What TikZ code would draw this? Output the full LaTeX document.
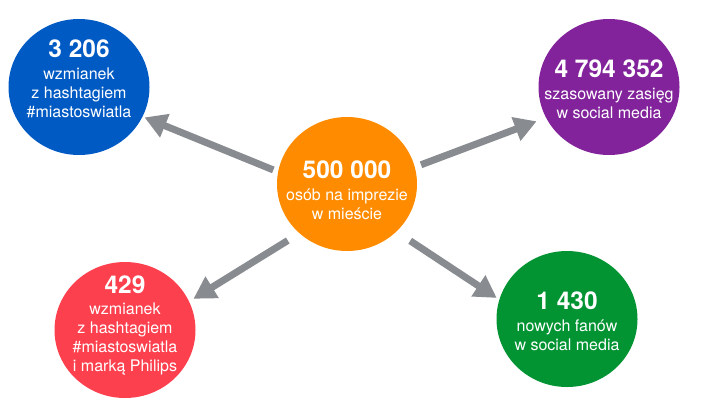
\documentclass[tikz,border=0pt]{standalone}
\usepackage{fontspec}
\setmainfont{TeX Gyre Heros}
\usetikzlibrary{arrows.meta,shapes.geometric}
\definecolor{cblue}{RGB}{0,90,196}
\definecolor{cpurple}{RGB}{130,35,155}
\definecolor{cred}{RGB}{252,64,78}
\definecolor{cgreen}{RGB}{2,148,50}
\definecolor{corange}{RGB}{255,140,0}
\definecolor{cgray}{RGB}{136,139,143}
\tikzset{
  bubble/.style={ellipse, draw=none, minimum width=141pt, minimum height=136pt, inner sep=0pt},
  lbl/.style={text=white, align=center, inner sep=0pt, anchor=north,
    font=\fontsize{16}{18.7}\selectfont},
  arr/.style={draw=cgray, line width=7pt, -{Triangle[length=22pt,width=24pt]}},
}
\newcommand{\bignum}[1]{{\fontsize{24.5}{24.5}\selectfont\bfseries #1}}
\begin{document}
\begin{tikzpicture}[x=1pt,y=-1pt]
\useasboundingbox (0,0) rectangle (701,405);
\node[bubble, fill=cblue] (blue) at (79,87) {};
\node[bubble, fill=cpurple] (purple) at (609,87) {};
\node[bubble, fill=cred] (red) at (125,330) {};
\node[bubble, fill=cgreen] (green) at (567,319) {};
\node[bubble, fill=corange, minimum width=140pt, minimum height=134pt] (orange) at (347,184) {};

\node[lbl] (bluet) at (79,40) {\bignum{3 206}\\[3.3pt] wzmianek\\ z hashtagiem\\ \#miastoswiatla};
\node[lbl] (purplet) at (609,60) {\bignum{4 794 352}\\[3.3pt] szasowany zasięg\\ w social media};
\node[lbl] (redt) at (125,276) {\bignum{429}\\[2.3pt] wzmianek\\ z hashtagiem\\ \#miastoswiatla\\ i marką Philips};
\node[lbl] (greent) at (567,292) {\bignum{1 430}\\[3.3pt] nowych fanów\\ w social media};
\node[lbl] (oranget) at (347,161) {\bignum{500 000}\\[3.3pt] osób na imprezie\\ w mieście};

\draw[arr, shorten <=5pt, shorten >=2pt] (orange.170.8) -- (blue.-25.5);
\draw[arr, shorten <=6.5pt, shorten >=10pt] (orange.14.4) -- (purple.206.9);
\draw[arr, shorten <=13.6pt, shorten >=5pt] (orange.226) -- (red.24.5);
\draw[arr, shorten <=16.5pt, shorten >=3pt] (orange.-44) -- (green.164);
\end{tikzpicture}
\end{document}
